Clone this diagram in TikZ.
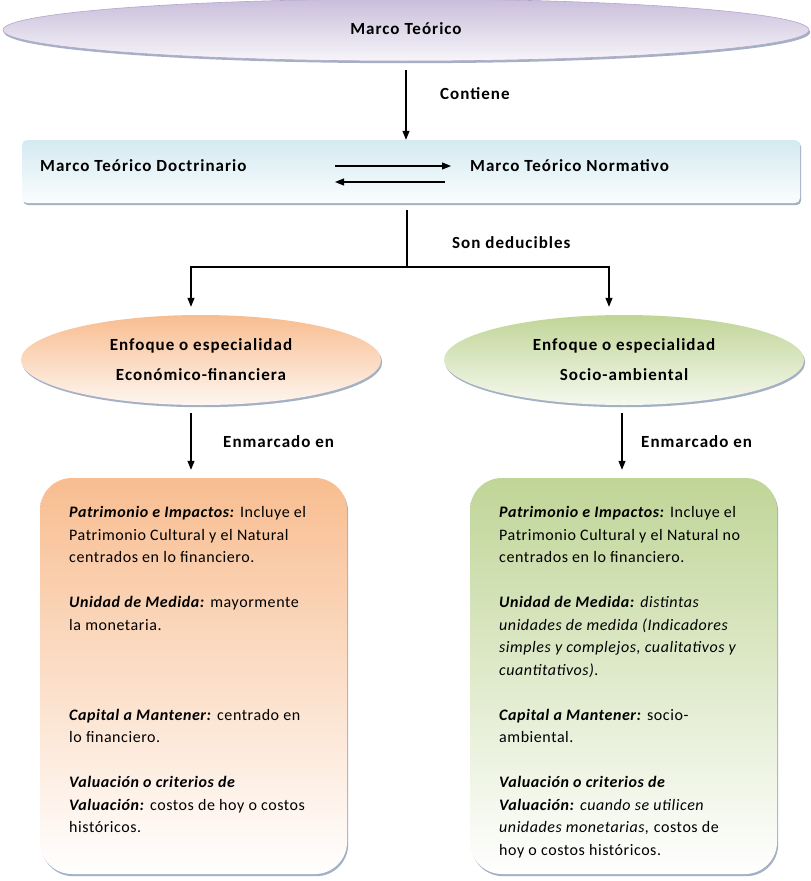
\documentclass[tikz,border=0pt]{standalone}
\usepackage{fontspec}
\setmainfont[LetterSpace=3.5]{Carlito}
\newfontfamily\lblfont[LetterSpace=6]{Carlito}
\usetikzlibrary{shapes.geometric,arrows.meta,shadows,calc}
\definecolor{lavtop}{HTML}{C9BEDB}
\definecolor{lavbot}{HTML}{F7F5FA}
\definecolor{lavedge}{HTML}{B4A6CA}
\definecolor{bluetop}{HTML}{D3EAF1}
\definecolor{bluebot}{HTML}{FBFDFE}
\definecolor{ortop}{HTML}{F8BD90}
\definecolor{orbot}{HTML}{FEF6F0}
\definecolor{grtop}{HTML}{C0D597}
\definecolor{grbot}{HTML}{F6F9EF}
\definecolor{shadowc}{HTML}{9AA8BE}
\begin{document}
\begin{tikzpicture}[x=1pt,y=-1pt,
  font=\fontsize{16}{22.5}\selectfont,
  arr/.style={draw, line width=1.1pt, -{Triangle[length=9pt,width=7pt]}},
  plain/.style={draw, line width=1.1pt},
  lbl/.style={font=\lblfont\fontsize{17}{18}\selectfont\bfseries, inner sep=0pt},
  shadowed/.style={drop shadow={shadow xshift=1.2pt,shadow yshift=-2.2pt,fill=shadowc,opacity=0.9}},
  oval/.style={ellipse, inner sep=0pt, shadowed, align=center, font=\lblfont\fontsize{17}{30}\selectfont\bfseries},
  bigbox/.style={rectangle, rounded corners=32pt, shadowed, minimum width=307pt, minimum height=396pt},
  boxtext/.style={inner sep=0pt, align=left, anchor=north west, font=\fontsize{16}{22.5}\selectfont}
]
\useasboundingbox (0,0) rectangle (811,881);

% top ellipse
\node[oval, minimum width=806pt, minimum height=62pt, top color=lavtop, bottom color=lavbot, draw=lavedge, line width=0.6pt] (mt) at (406,30) {\raisebox{2pt}{Marco Teórico}};

% rectangle with two frameworks
\node[rectangle, rounded corners=5pt, shadowed, minimum width=778pt, minimum height=63pt, top color=bluetop, bottom color=bluebot] (mc) at (411,171.5) {};
\node[lbl, anchor=west] (doc) at (40,166) {Marco Teórico Doctrinario};
\node[lbl, anchor=west] (norm) at (470,166) {Marco Teórico Normativo};

\draw[arr, shorten <=9pt] (mt.south) -- (mt.south |- mc.north);
\node[lbl, anchor=west] (l1) at (440,94) {Contiene};

\draw[arr] ($(doc.west)+(295,0)$) -- ($(norm.west)+(-19,0)$);
\draw[arr] ($(norm.west)+(-25,16)$) -- ($(doc.west)+(295,16)$);

% branch
\coordinate (br) at (407,267);
\draw[plain, shorten <=7pt] (mc.south -| br) -- (br);
\node[lbl, anchor=west] (l2) at (452,243) {Son deducibles};

% second level ellipses
\node[oval, minimum width=360pt, minimum height=90pt, top color=ortop, bottom color=orbot] (ef) at (201,360) {Enfoque o especialidad\\Económico-financiera};
\node[oval, minimum width=360pt, minimum height=90pt, top color=grtop, bottom color=grbot] (es) at (624,360) {Enfoque o especialidad\\Socio-ambiental};

\draw[arr] (br) -| ([xshift=-10pt,yshift=8pt]ef.north);
\draw[arr] (br) -| ([xshift=-15pt,yshift=8pt]es.north);

% boxes
\node[bigbox, top color=ortop, bottom color=white] (bx1) at (193.5,676) {};
\node[bigbox, top color=grtop, bottom color=white] (bx2) at (623.5,676) {};

\draw[arr, shorten <=8pt, shorten >=8pt] ([xshift=-10pt]ef.south) -- ([xshift=-10pt]ef.south |- bx1.north);
\draw[arr, shorten <=8pt, shorten >=8pt] ([xshift=-2pt]es.south) -- ([xshift=-2pt]es.south |- bx2.north);
\node[lbl, anchor=west] (l3) at (223,442) {Enmarcado en};
\node[lbl, anchor=west] (l4) at (641,442) {Enmarcado en};

\node[boxtext] (t1) at (69,506.5) {%
\textbf{\textit{Patrimonio e Impactos:}} Incluye el\\
Patrimonio Cultural y el Natural\\
centrados en lo financiero.\\[22.5pt]
\textbf{\textit{Unidad de Medida:}} mayormente\\
la monetaria.\\[67.5pt]
\textbf{\textit{Capital a Mantener:}} centrado en\\
lo financiero.\\[22.5pt]
\textbf{\textit{Valuación o criterios de}}\\
\textbf{\textit{Valuación:}} costos de hoy o costos\\
históricos.};

\node[boxtext] (t2) at (499,506.5) {%
\textbf{\textit{Patrimonio e Impactos:}} Incluye el\\
Patrimonio Cultural y el Natural no\\
centrados en lo financiero.\\[22.5pt]
\textbf{\textit{Unidad de Medida:}} \textit{distintas}\\
\textit{unidades de medida (Indicadores}\\
\textit{simples y complejos, cualitativos y}\\
\textit{cuantitativos).}\\[22.5pt]
\textbf{\textit{Capital a Mantener:}} socio-\\
ambiental.\\[22.5pt]
\textbf{\textit{Valuación o criterios de}}\\
\textbf{\textit{Valuación:}} \textit{cuando se utilicen}\\
\textit{unidades monetarias,} costos de\\
hoy o costos históricos.};
\end{tikzpicture}
\end{document}
